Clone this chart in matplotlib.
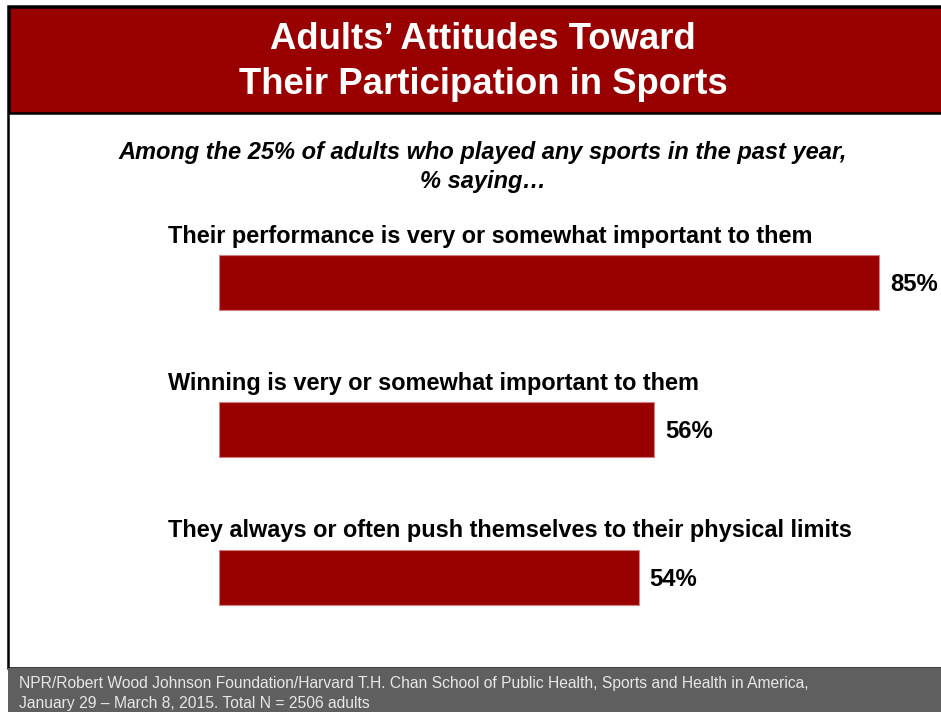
import matplotlib.pyplot as plt
from matplotlib.patches import Rectangle

# data
items = ['Their performance is very or somewhat important to them',
         'Winning is very or somewhat important to them',
         'They always or often push themselves to their physical limits']
values = [85, 56, 54]

title = 'Adults\u2019 Attitudes Toward\nTheir Participation in Sports'
subtitle = 'Among the 25% of adults who played any sports in the past year,\n% saying\u2026'
source = ('NPR/Robert Wood Johnson Foundation/Harvard T.H. Chan School of Public Health, Sports and Health in America,\n'
          'January 29 \u2013 March 8, 2015. Total N = 2506 adults')

RED = '#990000'
W, H = 941, 712

plt.rcParams['font.family'] = ['Liberation Sans', 'DejaVu Sans']

fig = plt.figure(figsize=(W / 100, H / 100), dpi=100)


def fx(px):
    return px / W


def fy(py):
    return 1 - py / H


# frame, title banner, footer
fig.patches.append(Rectangle((fx(8), fy(668)), fx(941 - 8 + 5), 668 / H - 6 / H,
                             transform=fig.transFigure, facecolor='white',
                             edgecolor='black', linewidth=1.8, zorder=-3))
fig.patches.append(Rectangle((fx(9), fy(113)), fx(941 - 9 + 5), 106 / H,
                             transform=fig.transFigure, facecolor=RED,
                             edgecolor='black', linewidth=1.8, zorder=-2))
fig.patches.append(Rectangle((fx(8), 0), fx(941 - 8), fy(668),
                             transform=fig.transFigure, facecolor='#5f5f5f',
                             edgecolor='none', zorder=-1))

fig.text(fx(483), fy(62), title, ha='center', va='center', color='white',
         fontsize=26.3, fontweight='bold', linespacing=1.4)
fig.text(fx(483), fy(167), subtitle, ha='center', va='center', color='black',
         fontsize=17, fontweight='bold', style='italic', linespacing=1.3)
fig.text(fx(19), fy(693.5), source, ha='left', va='center', color='#e8e8e8',
         fontsize=11.25, linespacing=1.36)

# bars axis: 0% at x=219px, 7.77 px per %
px_per_pct = 7.77
ax_left, ax_top, ax_bottom = 219, 135, 660
unit = 147.5
ax = fig.add_axes([fx(ax_left), fy(ax_bottom), fx(W - ax_left), (ax_bottom - ax_top) / H])
ax.set_xlim(0, (W - ax_left) / px_per_pct)
top = -(282 - ax_top) / unit
ax.set_ylim(top + (ax_bottom - ax_top) / unit, top)
ax.axis('off')

pos = list(range(len(values)))
ax.barh(pos, values, height=55 / unit, color=RED, edgecolor='#d08080', linewidth=0.8)

for i, (lab, v) in enumerate(zip(items, values)):
    ax.annotate(lab, xy=(fx(168), i - 46 / unit), xycoords=('figure fraction', 'data'),
                ha='left', va='center', fontsize=16.9, fontweight='bold',
                annotation_clip=False)
    ax.annotate(f'{v}%', xy=(v, i), xytext=(8, -1.5), textcoords='offset points',
                ha='left', va='center', fontsize=17.2, fontweight='bold',
                annotation_clip=False)

fig.savefig('out.png', dpi=100)
